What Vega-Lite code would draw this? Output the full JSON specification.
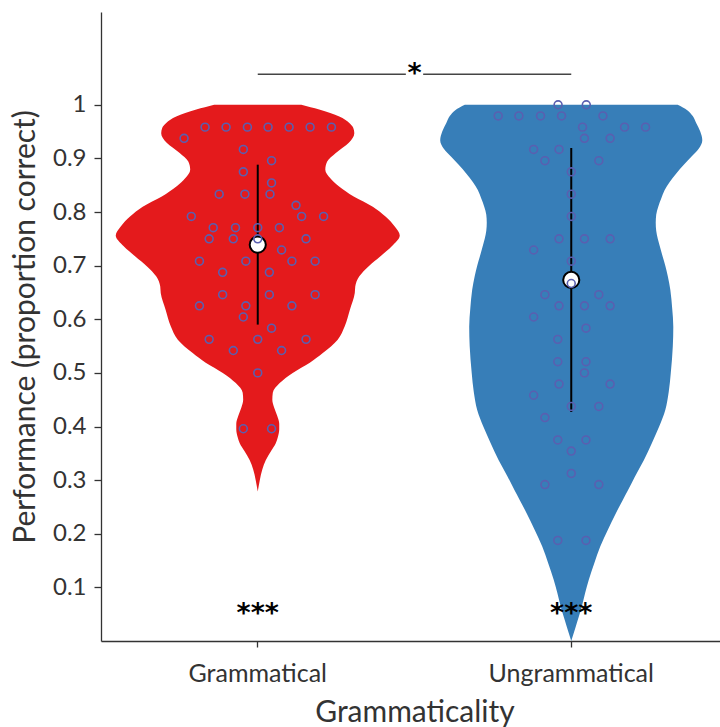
{
  "$schema": "https://vega.github.io/schema/vega-lite/v6.json",
  "width": 627,
  "height": 629,
  "autosize": {"type": "none"},
  "padding": {"left": 101, "top": 12, "right": 0, "bottom": 86},
  "datasets": {
    "scores": [
      {"grammaticality": "Grammatical", "value": 0.9583, "jitter": -0.168},
      {"grammaticality": "Grammatical", "value": 0.9583, "jitter": -0.101},
      {"grammaticality": "Grammatical", "value": 0.9583, "jitter": -0.033},
      {"grammaticality": "Grammatical", "value": 0.9583, "jitter": 0.033},
      {"grammaticality": "Grammatical", "value": 0.9583, "jitter": 0.100},
      {"grammaticality": "Grammatical", "value": 0.9583, "jitter": 0.167},
      {"grammaticality": "Grammatical", "value": 0.9583, "jitter": 0.235},
      {"grammaticality": "Grammatical", "value": 0.9375, "jitter": -0.235},
      {"grammaticality": "Grammatical", "value": 0.9167, "jitter": -0.046},
      {"grammaticality": "Grammatical", "value": 0.8958, "jitter": 0.044},
      {"grammaticality": "Grammatical", "value": 0.875, "jitter": -0.046},
      {"grammaticality": "Grammatical", "value": 0.8542, "jitter": 0.044},
      {"grammaticality": "Grammatical", "value": 0.8333, "jitter": -0.123},
      {"grammaticality": "Grammatical", "value": 0.8333, "jitter": -0.041},
      {"grammaticality": "Grammatical", "value": 0.8333, "jitter": 0.039},
      {"grammaticality": "Grammatical", "value": 0.8125, "jitter": 0.122},
      {"grammaticality": "Grammatical", "value": 0.7917, "jitter": -0.212},
      {"grammaticality": "Grammatical", "value": 0.7917, "jitter": 0.140},
      {"grammaticality": "Grammatical", "value": 0.7917, "jitter": 0.210},
      {"grammaticality": "Grammatical", "value": 0.7708, "jitter": -0.142},
      {"grammaticality": "Grammatical", "value": 0.7708, "jitter": -0.071},
      {"grammaticality": "Grammatical", "value": 0.7708, "jitter": 0},
      {"grammaticality": "Grammatical", "value": 0.7708, "jitter": 0.069},
      {"grammaticality": "Grammatical", "value": 0.75, "jitter": -0.155},
      {"grammaticality": "Grammatical", "value": 0.75, "jitter": -0.078},
      {"grammaticality": "Grammatical", "value": 0.75, "jitter": 0},
      {"grammaticality": "Grammatical", "value": 0.75, "jitter": 0.154},
      {"grammaticality": "Grammatical", "value": 0.7292, "jitter": 0.076},
      {"grammaticality": "Grammatical", "value": 0.7083, "jitter": -0.186},
      {"grammaticality": "Grammatical", "value": 0.7083, "jitter": -0.038},
      {"grammaticality": "Grammatical", "value": 0.7083, "jitter": 0.109},
      {"grammaticality": "Grammatical", "value": 0.7083, "jitter": 0.183},
      {"grammaticality": "Grammatical", "value": 0.6875, "jitter": -0.112},
      {"grammaticality": "Grammatical", "value": 0.6875, "jitter": 0.037},
      {"grammaticality": "Grammatical", "value": 0.6458, "jitter": -0.112},
      {"grammaticality": "Grammatical", "value": 0.6458, "jitter": 0.037},
      {"grammaticality": "Grammatical", "value": 0.6458, "jitter": 0.183},
      {"grammaticality": "Grammatical", "value": 0.625, "jitter": -0.186},
      {"grammaticality": "Grammatical", "value": 0.625, "jitter": -0.038},
      {"grammaticality": "Grammatical", "value": 0.625, "jitter": 0.109},
      {"grammaticality": "Grammatical", "value": 0.6042, "jitter": -0.046},
      {"grammaticality": "Grammatical", "value": 0.5833, "jitter": 0.044},
      {"grammaticality": "Grammatical", "value": 0.5625, "jitter": -0.155},
      {"grammaticality": "Grammatical", "value": 0.5625, "jitter": 0},
      {"grammaticality": "Grammatical", "value": 0.5625, "jitter": 0.154},
      {"grammaticality": "Grammatical", "value": 0.5417, "jitter": -0.078},
      {"grammaticality": "Grammatical", "value": 0.5417, "jitter": 0.076},
      {"grammaticality": "Grammatical", "value": 0.5, "jitter": 0},
      {"grammaticality": "Grammatical", "value": 0.3958, "jitter": -0.046},
      {"grammaticality": "Grammatical", "value": 0.3958, "jitter": 0.044},
      {"grammaticality": "Ungrammatical", "value": 1.0, "jitter": -0.042},
      {"grammaticality": "Ungrammatical", "value": 1.0, "jitter": 0.048},
      {"grammaticality": "Ungrammatical", "value": 0.9792, "jitter": -0.233},
      {"grammaticality": "Ungrammatical", "value": 0.9792, "jitter": -0.167},
      {"grammaticality": "Ungrammatical", "value": 0.9792, "jitter": -0.098},
      {"grammaticality": "Ungrammatical", "value": 0.9792, "jitter": -0.031},
      {"grammaticality": "Ungrammatical", "value": 0.9792, "jitter": 0.101},
      {"grammaticality": "Ungrammatical", "value": 0.9583, "jitter": 0.036},
      {"grammaticality": "Ungrammatical", "value": 0.9583, "jitter": 0.170},
      {"grammaticality": "Ungrammatical", "value": 0.9583, "jitter": 0.237},
      {"grammaticality": "Ungrammatical", "value": 0.9375, "jitter": 0.042},
      {"grammaticality": "Ungrammatical", "value": 0.9375, "jitter": 0.124},
      {"grammaticality": "Ungrammatical", "value": 0.9167, "jitter": -0.120},
      {"grammaticality": "Ungrammatical", "value": 0.9167, "jitter": -0.039},
      {"grammaticality": "Ungrammatical", "value": 0.8958, "jitter": -0.084},
      {"grammaticality": "Ungrammatical", "value": 0.8958, "jitter": 0.088},
      {"grammaticality": "Ungrammatical", "value": 0.875, "jitter": 0},
      {"grammaticality": "Ungrammatical", "value": 0.8333, "jitter": 0},
      {"grammaticality": "Ungrammatical", "value": 0.7917, "jitter": 0},
      {"grammaticality": "Ungrammatical", "value": 0.75, "jitter": -0.039},
      {"grammaticality": "Ungrammatical", "value": 0.75, "jitter": 0.042},
      {"grammaticality": "Ungrammatical", "value": 0.75, "jitter": 0.124},
      {"grammaticality": "Ungrammatical", "value": 0.7292, "jitter": -0.120},
      {"grammaticality": "Ungrammatical", "value": 0.7083, "jitter": 0},
      {"grammaticality": "Ungrammatical", "value": 0.6667, "jitter": 0},
      {"grammaticality": "Ungrammatical", "value": 0.6458, "jitter": -0.084},
      {"grammaticality": "Ungrammatical", "value": 0.6458, "jitter": 0.088},
      {"grammaticality": "Ungrammatical", "value": 0.625, "jitter": -0.039},
      {"grammaticality": "Ungrammatical", "value": 0.625, "jitter": 0.042},
      {"grammaticality": "Ungrammatical", "value": 0.625, "jitter": 0.124},
      {"grammaticality": "Ungrammatical", "value": 0.6042, "jitter": -0.120},
      {"grammaticality": "Ungrammatical", "value": 0.5833, "jitter": 0.047},
      {"grammaticality": "Ungrammatical", "value": 0.5625, "jitter": -0.043},
      {"grammaticality": "Ungrammatical", "value": 0.5208, "jitter": -0.043},
      {"grammaticality": "Ungrammatical", "value": 0.5208, "jitter": 0.047},
      {"grammaticality": "Ungrammatical", "value": 0.5, "jitter": 0.042},
      {"grammaticality": "Ungrammatical", "value": 0.4792, "jitter": -0.039},
      {"grammaticality": "Ungrammatical", "value": 0.4792, "jitter": 0.124},
      {"grammaticality": "Ungrammatical", "value": 0.4583, "jitter": -0.120},
      {"grammaticality": "Ungrammatical", "value": 0.4375, "jitter": 0},
      {"grammaticality": "Ungrammatical", "value": 0.4375, "jitter": 0.088},
      {"grammaticality": "Ungrammatical", "value": 0.4167, "jitter": -0.084},
      {"grammaticality": "Ungrammatical", "value": 0.375, "jitter": -0.043},
      {"grammaticality": "Ungrammatical", "value": 0.375, "jitter": 0.047},
      {"grammaticality": "Ungrammatical", "value": 0.3542, "jitter": 0},
      {"grammaticality": "Ungrammatical", "value": 0.3125, "jitter": 0},
      {"grammaticality": "Ungrammatical", "value": 0.2917, "jitter": -0.084},
      {"grammaticality": "Ungrammatical", "value": 0.2917, "jitter": 0.088},
      {"grammaticality": "Ungrammatical", "value": 0.1875, "jitter": -0.043},
      {"grammaticality": "Ungrammatical", "value": 0.1875, "jitter": 0.047}
    ],
    "violins": [
      {"grammaticality": "Grammatical", "value": 1.0, "density": 0.278},
      {"grammaticality": "Grammatical", "value": 0.991, "density": 0.392},
      {"grammaticality": "Grammatical", "value": 0.978, "density": 0.520},
      {"grammaticality": "Grammatical", "value": 0.966, "density": 0.584},
      {"grammaticality": "Grammatical", "value": 0.957, "density": 0.609},
      {"grammaticality": "Grammatical", "value": 0.947, "density": 0.616},
      {"grammaticality": "Grammatical", "value": 0.929, "density": 0.581},
      {"grammaticality": "Grammatical", "value": 0.910, "density": 0.498},
      {"grammaticality": "Grammatical", "value": 0.894, "density": 0.443},
      {"grammaticality": "Grammatical", "value": 0.879, "density": 0.431},
      {"grammaticality": "Grammatical", "value": 0.863, "density": 0.463},
      {"grammaticality": "Grammatical", "value": 0.848, "density": 0.517},
      {"grammaticality": "Grammatical", "value": 0.829, "density": 0.612},
      {"grammaticality": "Grammatical", "value": 0.810, "density": 0.734},
      {"grammaticality": "Grammatical", "value": 0.792, "density": 0.813},
      {"grammaticality": "Grammatical", "value": 0.773, "density": 0.874},
      {"grammaticality": "Grammatical", "value": 0.756, "density": 0.906},
      {"grammaticality": "Grammatical", "value": 0.736, "density": 0.855},
      {"grammaticality": "Grammatical", "value": 0.717, "density": 0.781},
      {"grammaticality": "Grammatical", "value": 0.699, "density": 0.708},
      {"grammaticality": "Grammatical", "value": 0.680, "density": 0.648},
      {"grammaticality": "Grammatical", "value": 0.661, "density": 0.622},
      {"grammaticality": "Grammatical", "value": 0.649, "density": 0.619},
      {"grammaticality": "Grammatical", "value": 0.617, "density": 0.587},
      {"grammaticality": "Grammatical", "value": 0.587, "density": 0.555},
      {"grammaticality": "Grammatical", "value": 0.562, "density": 0.510},
      {"grammaticality": "Grammatical", "value": 0.537, "density": 0.415},
      {"grammaticality": "Grammatical", "value": 0.519, "density": 0.332},
      {"grammaticality": "Grammatical", "value": 0.500, "density": 0.223},
      {"grammaticality": "Grammatical", "value": 0.481, "density": 0.140},
      {"grammaticality": "Grammatical", "value": 0.463, "density": 0.096},
      {"grammaticality": "Grammatical", "value": 0.450, "density": 0.093},
      {"grammaticality": "Grammatical", "value": 0.435, "density": 0.105},
      {"grammaticality": "Grammatical", "value": 0.420, "density": 0.124},
      {"grammaticality": "Grammatical", "value": 0.405, "density": 0.137},
      {"grammaticality": "Grammatical", "value": 0.395, "density": 0.137},
      {"grammaticality": "Grammatical", "value": 0.380, "density": 0.128},
      {"grammaticality": "Grammatical", "value": 0.369, "density": 0.115},
      {"grammaticality": "Grammatical", "value": 0.355, "density": 0.086},
      {"grammaticality": "Grammatical", "value": 0.337, "density": 0.051},
      {"grammaticality": "Grammatical", "value": 0.320, "density": 0.029},
      {"grammaticality": "Grammatical", "value": 0.300, "density": 0.013},
      {"grammaticality": "Grammatical", "value": 0.279, "density": 0},
      {"grammaticality": "Ungrammatical", "value": 1.0, "density": 0.679},
      {"grammaticality": "Ungrammatical", "value": 0.990, "density": 0.740},
      {"grammaticality": "Ungrammatical", "value": 0.979, "density": 0.775},
      {"grammaticality": "Ungrammatical", "value": 0.966, "density": 0.797},
      {"grammaticality": "Ungrammatical", "value": 0.950, "density": 0.823},
      {"grammaticality": "Ungrammatical", "value": 0.934, "density": 0.836},
      {"grammaticality": "Ungrammatical", "value": 0.918, "density": 0.813},
      {"grammaticality": "Ungrammatical", "value": 0.903, "density": 0.766},
      {"grammaticality": "Ungrammatical", "value": 0.888, "density": 0.718},
      {"grammaticality": "Ungrammatical", "value": 0.872, "density": 0.670},
      {"grammaticality": "Ungrammatical", "value": 0.856, "density": 0.628},
      {"grammaticality": "Ungrammatical", "value": 0.841, "density": 0.596},
      {"grammaticality": "Ungrammatical", "value": 0.825, "density": 0.574},
      {"grammaticality": "Ungrammatical", "value": 0.810, "density": 0.555},
      {"grammaticality": "Ungrammatical", "value": 0.795, "density": 0.542},
      {"grammaticality": "Ungrammatical", "value": 0.780, "density": 0.539},
      {"grammaticality": "Ungrammatical", "value": 0.765, "density": 0.542},
      {"grammaticality": "Ungrammatical", "value": 0.750, "density": 0.552},
      {"grammaticality": "Ungrammatical", "value": 0.733, "density": 0.568},
      {"grammaticality": "Ungrammatical", "value": 0.716, "density": 0.584},
      {"grammaticality": "Ungrammatical", "value": 0.700, "density": 0.600},
      {"grammaticality": "Ungrammatical", "value": 0.680, "density": 0.616},
      {"grammaticality": "Ungrammatical", "value": 0.655, "density": 0.632},
      {"grammaticality": "Ungrammatical", "value": 0.620, "density": 0.644},
      {"grammaticality": "Ungrammatical", "value": 0.586, "density": 0.651},
      {"grammaticality": "Ungrammatical", "value": 0.550, "density": 0.648},
      {"grammaticality": "Ungrammatical", "value": 0.500, "density": 0.635},
      {"grammaticality": "Ungrammatical", "value": 0.465, "density": 0.622},
      {"grammaticality": "Ungrammatical", "value": 0.431, "density": 0.600},
      {"grammaticality": "Ungrammatical", "value": 0.400, "density": 0.561},
      {"grammaticality": "Ungrammatical", "value": 0.369, "density": 0.514},
      {"grammaticality": "Ungrammatical", "value": 0.337, "density": 0.463},
      {"grammaticality": "Ungrammatical", "value": 0.306, "density": 0.405},
      {"grammaticality": "Ungrammatical", "value": 0.280, "density": 0.360},
      {"grammaticality": "Ungrammatical", "value": 0.263, "density": 0.329},
      {"grammaticality": "Ungrammatical", "value": 0.238, "density": 0.284},
      {"grammaticality": "Ungrammatical", "value": 0.207, "density": 0.233},
      {"grammaticality": "Ungrammatical", "value": 0.176, "density": 0.185},
      {"grammaticality": "Ungrammatical", "value": 0.145, "density": 0.147},
      {"grammaticality": "Ungrammatical", "value": 0.114, "density": 0.112},
      {"grammaticality": "Ungrammatical", "value": 0.090, "density": 0.089},
      {"grammaticality": "Ungrammatical", "value": 0.064, "density": 0.067},
      {"grammaticality": "Ungrammatical", "value": 0.045, "density": 0.048},
      {"grammaticality": "Ungrammatical", "value": 0.027, "density": 0.029},
      {"grammaticality": "Ungrammatical", "value": 0.012, "density": 0.013},
      {"grammaticality": "Ungrammatical", "value": 0.0, "density": 0}
    ],
    "chanceTests": [
      {"grammaticality": "Grammatical", "label": "***", "level": 0.0625},
      {"grammaticality": "Ungrammatical", "label": "***", "level": 0.0625}
    ],
    "comparison": [
      {"from": "Grammatical", "to": "Ungrammatical", "label": "*", "level": 1.057}
    ]
  },
  "encoding": {
    "y": {
      "field": "value",
      "type": "quantitative",
      "title": "Performance (proportion correct)",
      "scale": {"domain": [0, 1.173], "nice": false, "zero": false},
      "axis": {
        "title": "Performance (proportion correct)",
        "values": [0.1, 0.2, 0.3, 0.4, 0.5, 0.6, 0.7, 0.8, 0.9, 1],
        "format": "~g"
      }
    }
  },
  "layer": [
    {
      "data": {"values": [{}]},
      "mark": {"type": "rule", "color": "#111111", "strokeWidth": 1, "strokeDash": [1.5, 1.5]},
      "encoding": {"y": {"datum": 0.5}}
    },
    {
      "data": {"name": "violins"},
      "transform": [{"filter": "datum.grammaticality === 'Grammatical'"}],
      "mark": {"type": "area", "orient": "horizontal", "interpolate": "monotone", "color": "#e41a1c", "opacity": 1},
      "encoding": {
        "x": {
          "field": "density",
          "type": "quantitative",
          "stack": "center",
          "scale": {"domain": [-0.047, 1.953], "nice": false, "zero": false},
          "axis": null
        }
      }
    },
    {
      "data": {"name": "violins"},
      "transform": [{"filter": "datum.grammaticality === 'Ungrammatical'"}],
      "mark": {"type": "area", "orient": "horizontal", "interpolate": "monotone", "color": "#377eb8", "opacity": 1},
      "encoding": {
        "x": {
          "field": "density",
          "type": "quantitative",
          "stack": "center",
          "scale": {"domain": [-1.082, 0.918], "nice": false, "zero": false},
          "axis": null
        }
      }
    },
    {
      "data": {"name": "scores"},
      "encoding": {
        "x": {
          "field": "grammaticality",
          "type": "nominal",
          "title": "Grammaticality",
          "scale": {"type": "band", "domain": ["Grammatical", "Ungrammatical"], "paddingInner": 0, "paddingOuter": 0}
        }
      },
      "layer": [
        {
          "mark": {"type": "errorbar", "extent": "stdev", "color": "#000000", "thickness": 2}
        },
        {
          "mark": {"type": "point", "filled": true, "color": "#ffffff", "stroke": "#000000", "strokeWidth": 2, "size": 260, "opacity": 1},
          "encoding": {
            "y": {"aggregate": "mean", "field": "value", "type": "quantitative", "title": "Performance (proportion correct)"}
          }
        },
        {
          "mark": {"type": "point", "filled": false, "color": "#5a5fb0", "strokeWidth": 1.6, "size": 62, "opacity": 1},
          "encoding": {
            "xOffset": {"field": "jitter", "type": "quantitative", "scale": {"domain": [-0.5, 0.5]}}
          }
        }
      ]
    },
    {
      "data": {"name": "chanceTests"},
      "mark": {"type": "text", "font": "DejaVu Sans", "fontWeight": "bold", "fontSize": 27, "color": "#000000", "baseline": "middle", "dy": 7},
      "encoding": {
        "x": {
          "field": "grammaticality",
          "type": "nominal",
          "scale": {"type": "band", "domain": ["Grammatical", "Ungrammatical"], "paddingInner": 0, "paddingOuter": 0},
          "axis": null
        },
        "y": {"field": "level", "type": "quantitative", "title": "Performance (proportion correct)"},
        "text": {"field": "label"}
      }
    },
    {
      "data": {"name": "comparison"},
      "mark": {"type": "rule", "color": "#444444", "strokeWidth": 1.5},
      "encoding": {
        "x": {
          "field": "from",
          "type": "nominal",
          "bandPosition": 0.5,
          "scale": {"type": "band", "domain": ["Grammatical", "Ungrammatical"], "paddingInner": 0, "paddingOuter": 0},
          "axis": null
        },
        "x2": {"field": "to"},
        "y": {"field": "level", "type": "quantitative", "title": "Performance (proportion correct)"}
      }
    },
    {
      "data": {"name": "comparison"},
      "mark": {"type": "square", "filled": true, "color": "#ffffff", "size": 300, "opacity": 1},
      "encoding": {
        "x": {
          "field": "from",
          "type": "nominal",
          "bandPosition": 1,
          "scale": {"type": "band", "domain": ["Grammatical", "Ungrammatical"], "paddingInner": 0, "paddingOuter": 0},
          "axis": null
        },
        "y": {"field": "level", "type": "quantitative", "title": "Performance (proportion correct)"}
      }
    },
    {
      "data": {"name": "comparison"},
      "mark": {"type": "text", "font": "DejaVu Sans", "fontWeight": "bold", "fontSize": 27, "color": "#000000", "baseline": "middle", "dy": 0},
      "encoding": {
        "x": {
          "field": "from",
          "type": "nominal",
          "bandPosition": 1,
          "scale": {"type": "band", "domain": ["Grammatical", "Ungrammatical"], "paddingInner": 0, "paddingOuter": 0},
          "axis": null
        },
        "y": {"field": "level", "type": "quantitative", "title": "Performance (proportion correct)"},
        "text": {"field": "label"}
      }
    }
  ],
  "resolve": {"scale": {"x": "independent"}},
  "config": {
    "view": {"stroke": null},
    "axis": {
      "grid": false,
      "domainColor": "#333333",
      "domainWidth": 1.3,
      "tickColor": "#333333",
      "tickWidth": 1.3,
      "labelColor": "#333333",
      "titleColor": "#333333",
      "labelFont": "Lato",
      "titleFont": "Lato",
      "titleFontWeight": "normal"
    },
    "axisY": {"labelFontSize": 24, "titleFontSize": 30, "tickSize": 7, "labelPadding": 8, "titlePadding": 12},
    "axisX": {"labelFontSize": 25, "titleFontSize": 30, "tickSize": 6, "labelPadding": 14, "titlePadding": 11, "labelAngle": 0}
  }
}
